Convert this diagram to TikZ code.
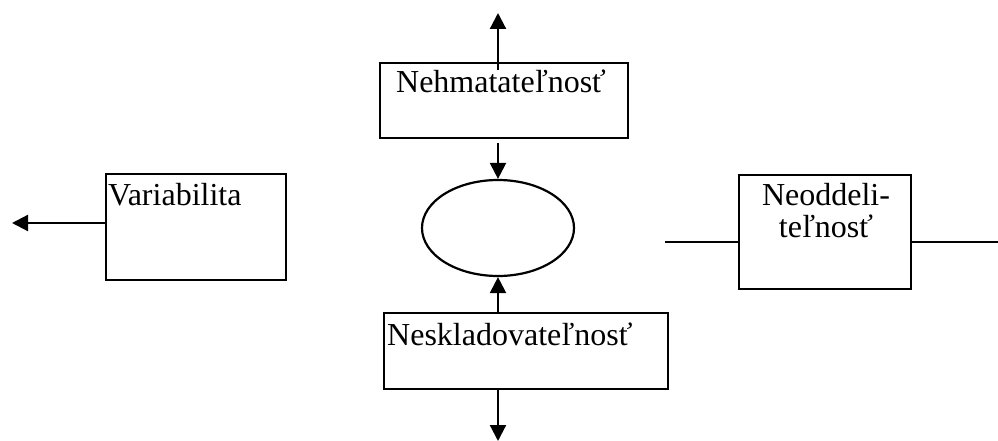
\documentclass[tikz,border=0pt]{standalone}
\usepackage{fontspec}
\setmainfont{Liberation Serif}
\usetikzlibrary{arrows.meta,shapes.geometric}
\tikzset{
  box/.style={draw, line width=2.2pt, rectangle, inner sep=0pt},
  oval/.style={draw, line width=2.2pt, ellipse, inner sep=0pt},
  lbl/.style={inner sep=0pt, font=\fontsize{32}{33}\selectfont},
  conn/.style={line width=2.2pt},
  arr/.style={line width=2.2pt, -{Triangle[length=16pt,width=16pt]}},
}
\begin{document}
\begin{tikzpicture}[x=1pt,y=-1pt]
\useasboundingbox (0,0) rectangle (998,441);
% boxes
\node[box, minimum width=248pt, minimum height=75pt] (top) at (504,100.5) {};
\node[box, minimum width=180pt, minimum height=106pt] (left) at (196,227) {};
\node[box, minimum width=172pt, minimum height=114pt] (right) at (825,232) {};
\node[box, minimum width=284pt, minimum height=76pt] (bot) at (526,351) {};
\node[oval, minimum width=152pt, minimum height=96pt] (ell) at (498,228) {};
% labels
\node[lbl, anchor=base] (ttop) at (501,93) {Nehmatateľnosť};
\node[lbl, anchor=base west] (tleft) at (108,205) {Variabilita};
\node[lbl, anchor=base] (tright1) at (826,205) {Neoddeli-};
\node[lbl, anchor=base] (tright2) at (826,237) {teľnosť};
\node[lbl, anchor=base west] (tbot) at (387,345) {Neskladovateľnosť};
% connector end points
\coordinate (upS) at (498,70);
\coordinate (upE) at (498,13);
\coordinate (dnS) at (498,143);
\coordinate (lE) at (12,223);
\coordinate (bE) at (498,441);
\coordinate (rL) at (665,242);
\coordinate (rR) at (998,242);
% connectors
\draw[arr] (upS) -- (upE);
\draw[arr] (dnS) -- (ell.north);
\draw[arr] (bot.north -| ell.south) -- (ell.south);
\draw[arr] (bot.south -| ell.south) -- (bE);
\draw[arr] (left.west |- lE) -- (lE);
\draw[conn] (rL) -- (right.west |- rL);
\draw[conn] (right.east |- rR) -- (rR);
\end{tikzpicture}
\end{document}
